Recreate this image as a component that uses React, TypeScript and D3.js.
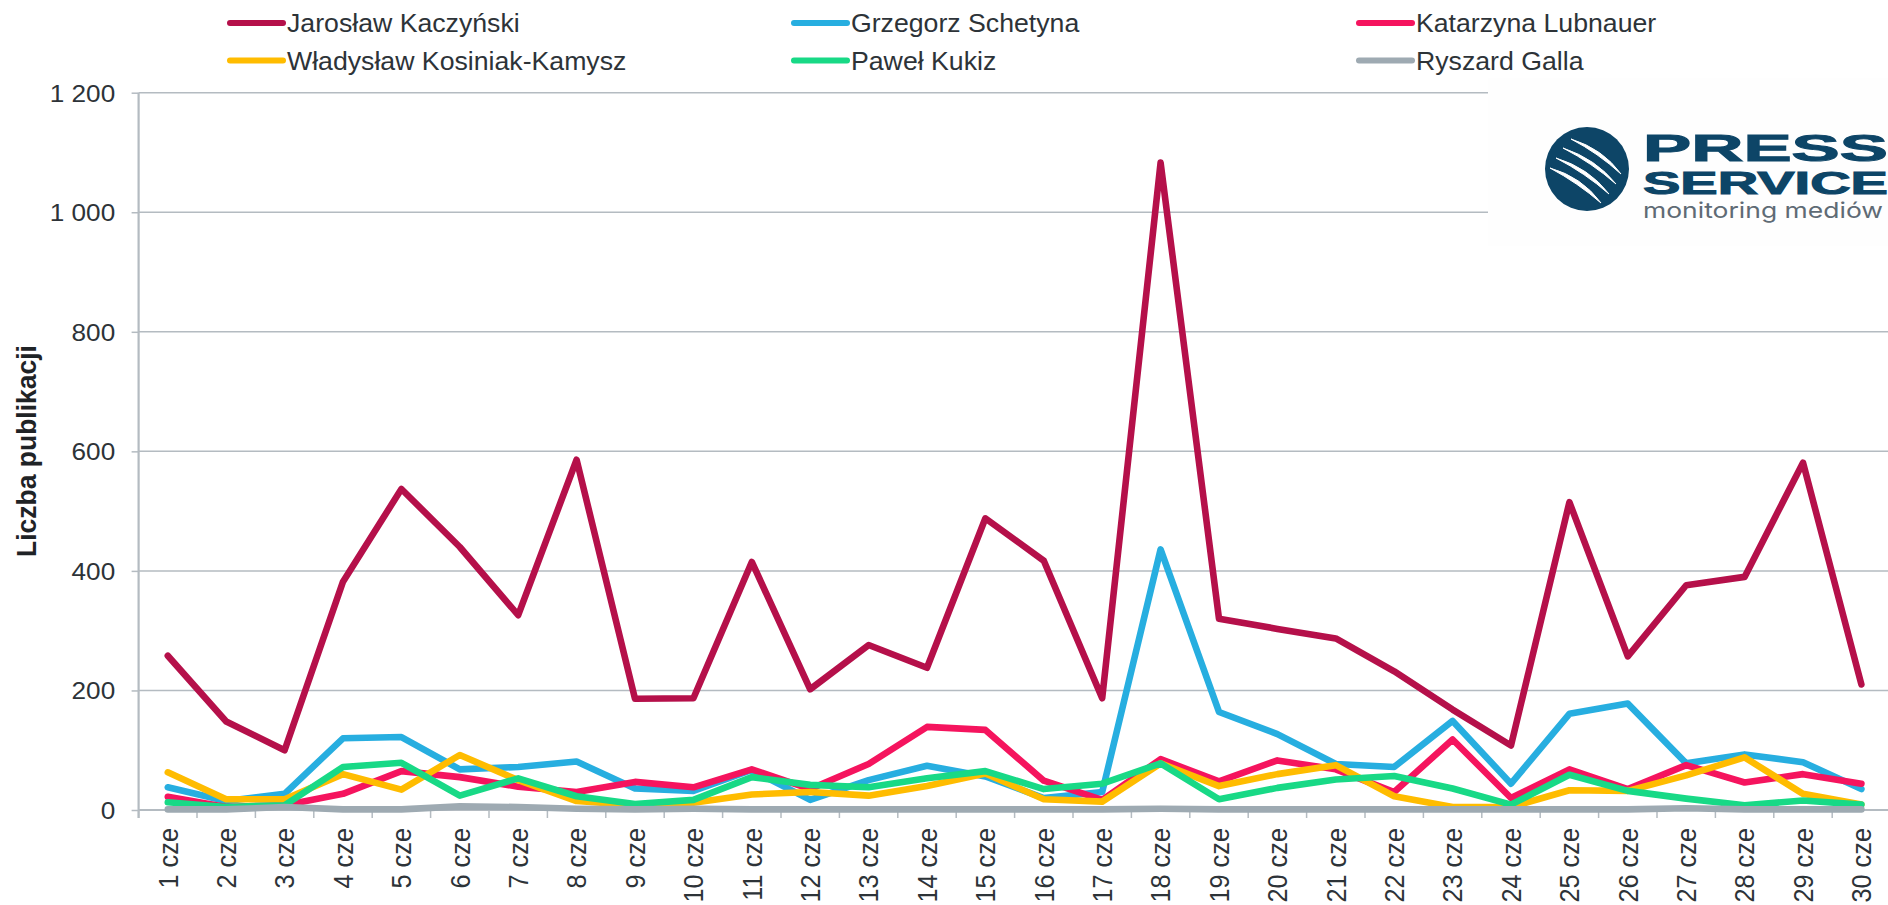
import React, { useRef, useEffect } from "react";
import { select, scaleBand, scaleLinear, axisLeft, axisBottom, line, format } from "d3";

const days = ["1 cze", "2 cze", "3 cze", "4 cze", "5 cze", "6 cze", "7 cze", "8 cze", "9 cze", "10 cze", "11 cze", "12 cze", "13 cze", "14 cze", "15 cze", "16 cze", "17 cze", "18 cze", "19 cze", "20 cze", "21 cze", "22 cze", "23 cze", "24 cze", "25 cze", "26 cze", "27 cze", "28 cze", "29 cze", "30 cze"];
const yTicks = [0, 200, 400, 600, 800, 1000, 1200];

const kaczynski = [258, 148, 100, 382, 537, 440, 326, 586, 186, 187, 415, 202, 276, 238, 488, 417, 187, 1083, 320, 303, 287, 232, 168, 108, 515, 257, 376, 390, 581, 210];
const schetyna = [38, 15, 27, 120, 122, 68, 72, 81, 36, 32, 67, 17, 50, 74, 56, 20, 30, 436, 164, 127, 77, 72, 149, 44, 161, 178, 78, 93, 80, 35];
const lubnauer = [22, 5, 8, 27, 65, 55, 39, 30, 47, 38, 68, 35, 77, 139, 134, 49, 17, 85, 48, 83, 68, 30, 118, 20, 68, 35, 75, 46, 60, 44];
const kosiniak = [63, 18, 18, 60, 34, 92, 50, 15, 8, 12, 26, 30, 24, 40, 61, 18, 14, 78, 40, 60, 75, 23, 5, 5, 33, 32, 58, 88, 27, 9];
const kukiz = [13, 5, 8, 72, 79, 24, 53, 23, 10, 17, 55, 42, 38, 53, 65, 35, 44, 78, 18, 37, 51, 57, 36, 9, 59, 32, 19, 8, 16, 9];
const galla = [1, 1, 5, 1, 1, 6, 5, 2, 1, 2, 1, 1, 1, 1, 1, 1, 1, 2, 1, 1, 1, 1, 1, 1, 1, 1, 3, 1, 1, 1];

const seriesNames = ["Jarosław Kaczyński", "Grzegorz Schetyna", "Katarzyna Lubnauer", "Władysław Kosiniak-Kamysz", "Paweł Kukiz", "Ryszard Galla"];
const seriesValues = [kaczynski, schetyna, lubnauer, kosiniak, kukiz, galla];
const seriesColors = ["#b5104a", "#27aee0", "#f5145e", "#ffbc00", "#18d986", "#9eaab2"];

const width = 1888;
const height = 905;
const font = "'Liberation Sans', Arial, sans-serif";
const textColor = "#2d3338";
const gridColor = "#b4bbc1";
// the reference is a picture stretched sideways, so its text is too
const stretch = "scale(1.067,1)";

const App = () => {
  const svgRef = useRef<SVGSVGElement>(null);

  useEffect(() => {
    const svg = select(svgRef.current);
    svg.selectAll("*").remove();

    const x = scaleBand().domain(days).range([138.6, 1890.6]);
    const y = scaleLinear().domain([0, 1200]).range([810, 92.7]);

    // grid
    svg.append("g").selectAll("line").data(yTicks.slice(1)).enter().append("line")
      .attr("x1", 138.6).attr("x2", width)
      .attr("y1", (d) => y(d)).attr("y2", (d) => y(d))
      .attr("stroke", gridColor).attr("stroke-width", 1.5);

    // y axis
    const yAxis = svg.append("g").attr("transform", "translate(138.6,0)")
      .call(axisLeft(y).tickValues(yTicks).tickSize(7)
        .tickFormat((d) => format(",")(d as number).replace(",", " ")));
    yAxis.select(".domain").remove();
    yAxis.selectAll("line").attr("stroke", gridColor).attr("stroke-width", 1.5);
    yAxis.selectAll("text")
      .attr("font-family", font).attr("font-size", 24.5).attr("fill", textColor)
      .attr("x", 0).attr("dy", "0.34em")
      .attr("transform", "translate(-23.4,0) " + stretch);

    // x axis: ticks sit between the days, labels on the days
    const bounds = [...days.map((d) => x(d) as number), 1890.6];
    svg.append("line").attr("x1", 138.6).attr("x2", width).attr("y1", y(0)).attr("y2", y(0))
      .attr("stroke", gridColor).attr("stroke-width", 2);
    svg.append("line").attr("x1", 138.6).attr("x2", 138.6).attr("y1", y(1200)).attr("y2", 818)
      .attr("stroke", gridColor).attr("stroke-width", 2.2);
    svg.append("g").selectAll("line").data(bounds).enter().append("line")
      .attr("x1", (d) => d).attr("x2", (d) => d).attr("y1", y(0)).attr("y2", 818)
      .attr("stroke", gridColor).attr("stroke-width", 1.5);

    const xAxis = svg.append("g").attr("transform", "translate(0," + y(0) + ")")
      .call(axisBottom(x).tickSize(0));
    xAxis.select(".domain").remove();
    xAxis.selectAll("text")
      .attr("font-family", font).attr("font-size", 25.3).attr("fill", textColor)
      .attr("text-anchor", "end")
      .attr("x", 0).attr("y", 0).attr("dy", "0.36em")
      .attr("transform", "translate(0,18) " + stretch + " rotate(-90)");

    // axis title
    svg.append("text").attr("transform", "translate(36,451) " + stretch + " rotate(-90)")
      .attr("text-anchor", "middle").attr("font-family", font).attr("font-weight", "bold")
      .attr("font-size", 26.5).attr("fill", "#1f2326").text("Liczba publikacji");

    // series
    const myLine = line<number>()
      .x((_, i) => (x(days[i]) as number) + x.bandwidth() / 2)
      .y((d) => y(d));
    svg.append("g").selectAll("path").data(seriesValues).enter().append("path")
      .attr("d", (d) => myLine(d))
      .attr("fill", "none")
      .attr("stroke", (_, i) => seriesColors[i])
      .attr("stroke-width", 6.6)
      .attr("stroke-linejoin", "round")
      .attr("stroke-linecap", "round");

    // legend
    const legendX = [228, 792, 1357];
    const legendY = [23, 60.5];
    const legend = svg.append("g").selectAll("g").data(seriesNames).enter().append("g")
      .attr("transform", (_, i) => "translate(" + legendX[i % 3] + "," + legendY[Math.floor(i / 3)] + ")");
    legend.append("line").attr("x1", 2).attr("x2", 55).attr("y1", 0).attr("y2", 0)
      .attr("stroke", (_, i) => seriesColors[i]).attr("stroke-width", 6).attr("stroke-linecap", "round");
    legend.append("text").attr("dy", "0.36em")
      .attr("transform", "translate(59,0) " + stretch)
      .attr("font-family", font).attr("font-size", 25).attr("fill", textColor).text((d) => d);

    // logo
    const logo = svg.append("g");
    logo.append("rect").attr("x", 1488).attr("y", 78).attr("width", 400).attr("height", 168).attr("fill", "#fefefe");
    logo.append("circle").attr("cx", 1587).attr("cy", 169).attr("r", 42).attr("fill", "#0d4567");
    const swooshes = [
      "M1571 139 Q1603 149 1621 174 Q1598 153 1571 139 Z",
      "M1563 148 Q1596 159 1616 184 Q1592 163 1563 148 Z",
      "M1556 158 Q1589 168 1609 194 Q1585 173 1556 158 Z",
      "M1550 168 Q1582 177 1601 203 Q1578 183 1550 168 Z",
    ];
    logo.append("g").selectAll("path").data(swooshes).enter().append("path")
      .attr("d", (d) => d).attr("fill", "#fff").attr("stroke", "#fff").attr("stroke-width", 1);
    logo.append("text").attr("x", 1643).attr("y", 161.2).attr("textLength", 245).attr("lengthAdjust", "spacingAndGlyphs")
      .attr("font-family", font).attr("font-weight", "bold").attr("font-size", 37.5)
      .attr("fill", "#0d4567").attr("stroke", "#0d4567").attr("stroke-width", 1).text("PRESS");
    logo.append("text").attr("x", 1643).attr("y", 193.5).attr("textLength", 245).attr("lengthAdjust", "spacingAndGlyphs")
      .attr("font-family", font).attr("font-weight", "bold").attr("font-size", 31)
      .attr("fill", "#0d4567").attr("stroke", "#0d4567").attr("stroke-width", 1).text("SERVICE");
    logo.append("text").attr("x", 1643).attr("y", 218).attr("textLength", 240).attr("lengthAdjust", "spacingAndGlyphs")
      .attr("font-family", "Inter, sans-serif").attr("font-size", 22)
      .attr("fill", "#5f6b75").text("monitoring mediów");
  }, []);

  return (
    <svg ref={svgRef} width={width} height={height}
      style={{ position: "absolute", left: 0, top: 0, background: "#fff" }} />
  );
};

export default App;
